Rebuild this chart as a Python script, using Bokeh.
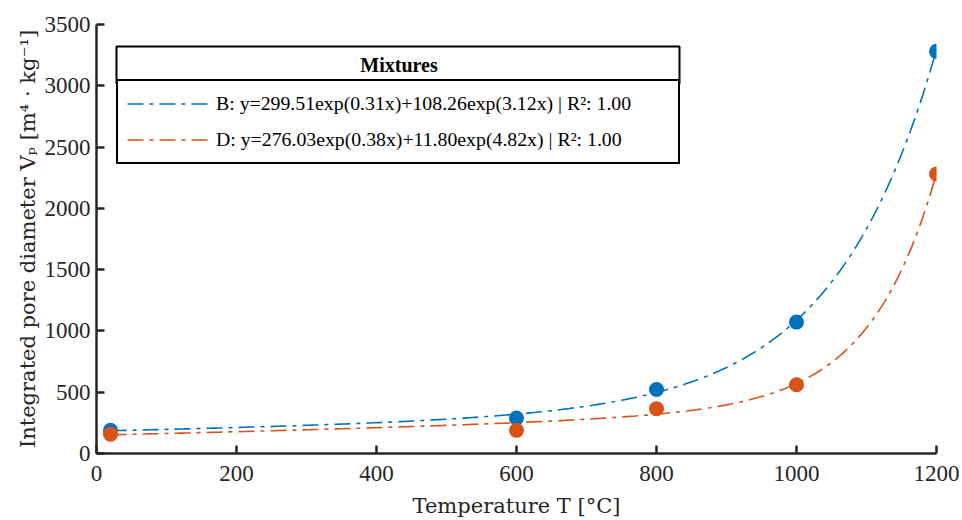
import numpy as np
from bokeh.plotting import figure
from bokeh.models import (Legend, LegendItem, BoxAnnotation, Label,
                          FixedTicker, Range1d)
from bokeh.embed import file_html
from bokeh.resources import INLINE

# ---- data ----
temperature = [20, 600, 800, 1000, 1200]
vp_B = [190, 290, 522, 1072, 3281]
vp_D = [158, 189, 366, 561, 2280]

# fitted two-term exponential models (x centred and scaled), from the legend
coef_B = [299.51, 0.31, 108.26, 3.12]
coef_D = [276.03, 0.38, 11.80, 4.82]
r2_B = 1.00
r2_D = 1.00

x_ticks = [0, 200, 400, 600, 800, 1000, 1200]
y_ticks = [0, 500, 1000, 1500, 2000, 2500, 3000, 3500]

legend_title = "Mixtures"
x_label = "Temperature T [°C]"
y_label = "Integrated pore diameter Vₚ [m⁴ · kg⁻¹]"

BLUE = "#0072BD"
ORANGE = "#D95319"
AX = "#262626"


def fit_label(name, c, r2):
    return f"{name}: y={c[0]:.2f}exp({c[1]:.2f}x)+{c[2]:.2f}exp({c[3]:.2f}x) | R²: {r2:.2f}"


t = np.array(temperature, dtype=float)
mu, sd = t.mean(), t.std(ddof=1)
xs = np.linspace(t.min(), t.max(), 300)
u = (xs - mu) / sd


def model(c):
    return c[0] * np.exp(c[1] * u) + c[2] * np.exp(c[3] * u)


p = figure(width=962, height=520,
           x_range=Range1d(0, 1200), y_range=Range1d(0, 3500),
           output_backend="svg", toolbar_location=None,
           min_border_left=96, min_border_right=26,
           min_border_top=24, min_border_bottom=66)

p.xgrid.visible = False
p.ygrid.visible = False
p.outline_line_color = None
p.background_fill_color = "white"
p.border_fill_color = "white"

p.xaxis.ticker = FixedTicker(ticks=x_ticks)
p.yaxis.ticker = FixedTicker(ticks=y_ticks)
p.xaxis.axis_label = x_label
p.yaxis.axis_label = y_label

for ax in (p.xaxis[0], p.yaxis[0]):
    ax.axis_line_width = 2.5
    ax.axis_line_color = AX
    ax.major_tick_in = 8
    ax.major_tick_out = 0
    ax.major_tick_line_width = 2.5
    ax.major_tick_line_color = AX
    ax.minor_tick_line_color = None
    ax.major_label_text_font = "Liberation Serif"
    ax.major_label_text_font_size = "23px"
    ax.major_label_text_color = AX
    ax.axis_label_text_font = "DejaVu Serif"
    ax.axis_label_text_font_style = "normal"
    ax.axis_label_text_font_size = "21px"
    ax.axis_label_text_color = AX

p.xaxis.major_label_standoff = 12
p.yaxis.major_label_standoff = 6
p.xaxis.axis_label_standoff = 10
p.yaxis.axis_label_standoff = 2

dash = "16 6 4 6"
line_B = p.line(xs, model(coef_B), line_color=BLUE, line_width=1.6, line_dash=dash)
line_D = p.line(xs, model(coef_D), line_color=ORANGE, line_width=1.6, line_dash=dash)
p.scatter(temperature, vp_B, marker="circle", size=15, fill_color=BLUE, line_color=None)
p.scatter(temperature, vp_D, marker="circle", size=15, fill_color=ORANGE, line_color=None)

legend = Legend(items=[LegendItem(label=fit_label("B", coef_B, r2_B), renderers=[line_B]),
                       LegendItem(label=fit_label("D", coef_D, r2_D), renderers=[line_D])],
                location=(20, 289), orientation="vertical",
                padding=9, spacing=9, margin=0,
                label_height=27, glyph_height=27, glyph_width=83,
                label_standoff=6, label_width=453,
                border_line_color="black", border_line_width=2, border_line_alpha=1,
                background_fill_color="white", background_fill_alpha=1,
                label_text_font="Liberation Serif", label_text_font_size="19.8px",
                label_text_color="black")
p.add_layout(legend)

title_box = BoxAnnotation(left=20, right=583, top=407, bottom=370,
                          left_units="screen", right_units="screen",
                          top_units="screen", bottom_units="screen",
                          fill_color="white", fill_alpha=1,
                          line_color="black", line_width=2, line_alpha=1,
                          level="overlay")
p.add_layout(title_box)
p.add_layout(Label(x=302.5, y=388.5, x_units="screen", y_units="screen",
                   text=legend_title, text_align="center", text_baseline="middle",
                   text_font="Liberation Serif", text_font_style="bold",
                   text_font_size="20px", text_color="black", level="overlay"))

open("out.html", "w").write(file_html(p, INLINE))
